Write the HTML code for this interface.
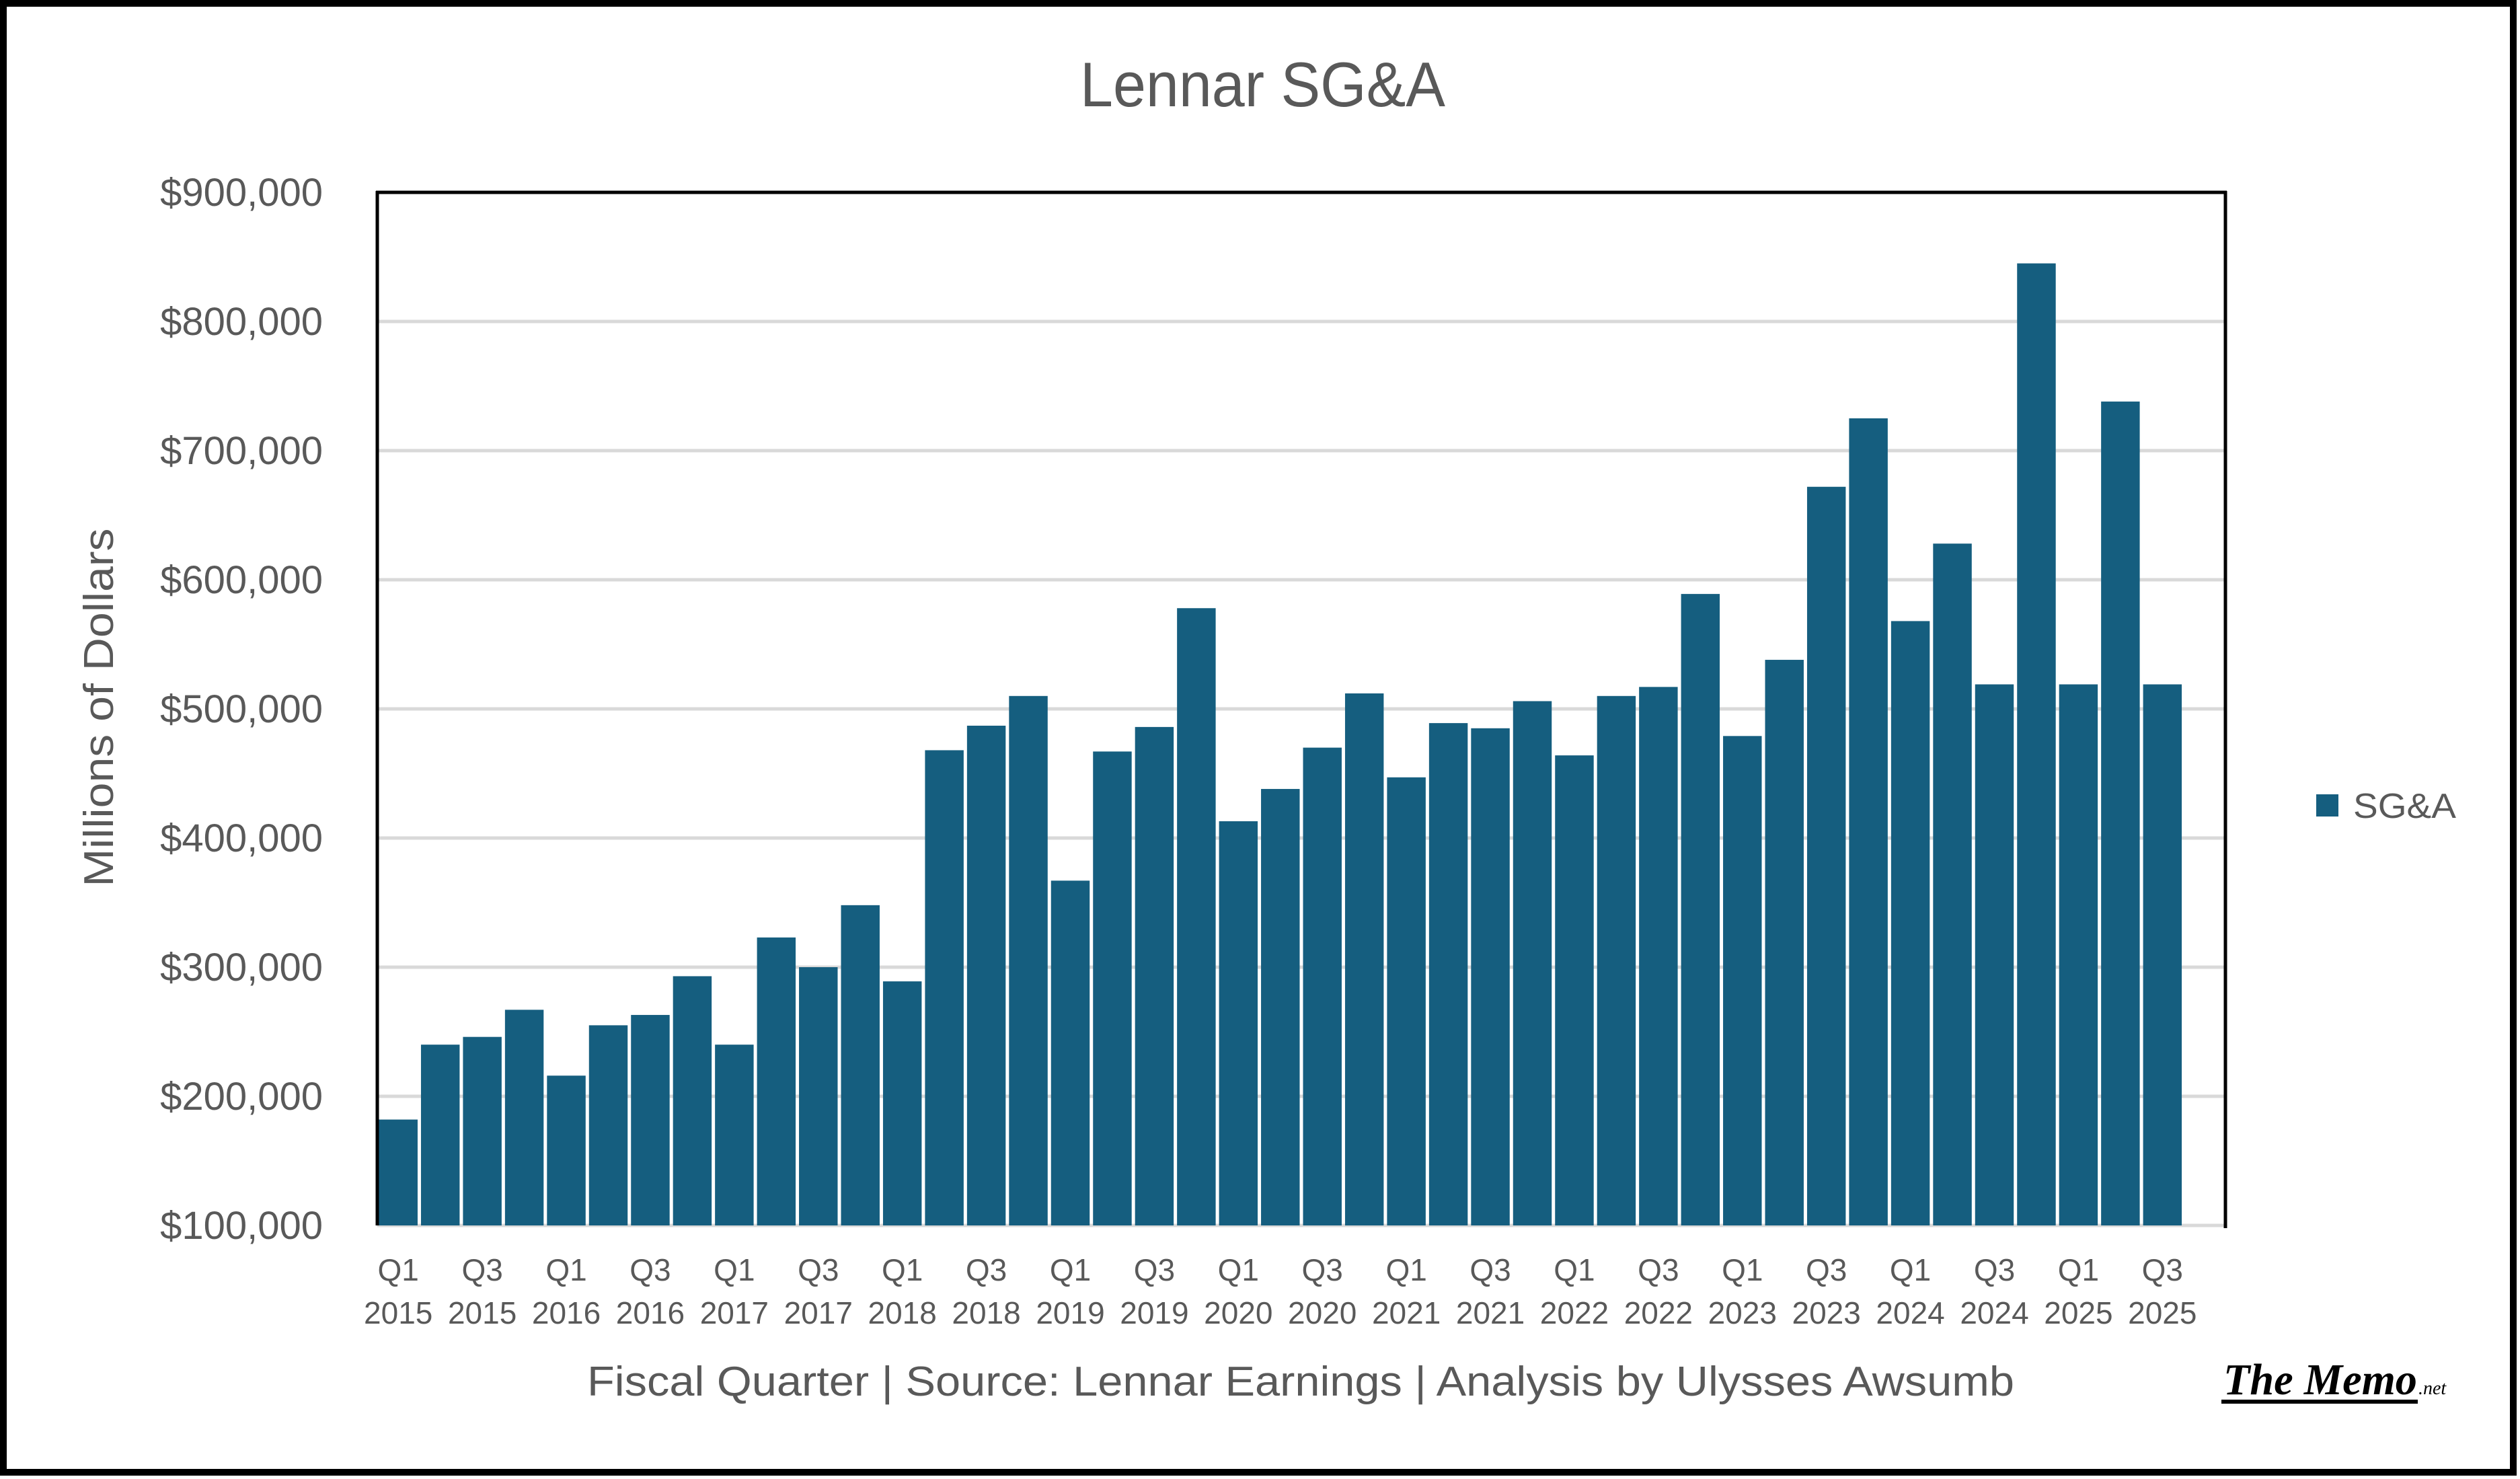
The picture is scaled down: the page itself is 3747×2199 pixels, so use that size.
<!DOCTYPE html>
<html><head><meta charset="utf-8"><style>
html,body{margin:0;padding:0;background:#fff;}
svg{display:block;}
text{font-family:"Liberation Sans",Arial,sans-serif;}
text.serif{font-family:"Liberation Serif","DejaVu Serif",serif;}
</style></head><body>
<svg id="chart" width="3747" height="2199" viewBox="0 0 3747 2199" xmlns="http://www.w3.org/2000/svg">
<rect x="5" y="5" width="3732" height="2184" fill="#fff" stroke="#000" stroke-width="10"/>
<text x="1606" y="158" font-size="94" fill="#595959" textLength="543" lengthAdjust="spacingAndGlyphs">Lennar SG&amp;A</text>
<g id="grid"></g>
<g id="bars"></g>
<g id="yticks"></g>
<g id="xticks"></g>
<line x1="561" y1="284" x2="561" y2="1822" stroke="#000" stroke-width="5"/>
<line x1="559" y1="286" x2="3311" y2="286" stroke="#000" stroke-width="5"/>
<line x1="3309" y1="284" x2="3309" y2="1826" stroke="#000" stroke-width="5"/>
<text transform="translate(168,1052) rotate(-90)" text-anchor="middle" font-size="62" fill="#595959" textLength="533" lengthAdjust="spacingAndGlyphs">Millions of Dollars</text>
<text x="873" y="2075" font-size="62" fill="#595959" textLength="2122" lengthAdjust="spacingAndGlyphs">Fiscal Quarter  | Source: Lennar Earnings | Analysis by Ulysses Awsumb</text>
<g>
<rect x="3444" y="1181" width="33" height="33" fill="#155e7f"/>
<text x="3499" y="1216" font-size="52" fill="#595959" textLength="153" lengthAdjust="spacingAndGlyphs">SG&amp;A</text>
</g>
<g>
<text class="serif" x="3306" y="2073" font-weight="bold" font-style="italic" font-size="66" fill="#000" textLength="288" lengthAdjust="spacingAndGlyphs">The Memo</text>
<text class="serif" x="3596" y="2073" font-style="italic" font-size="28" fill="#000">.net</text>
<rect x="3303" y="2081" width="292" height="6" fill="#000"/>
</g>
</svg>
<script>
const categories = ["Q1 2015","Q2 2015","Q3 2015","Q4 2015","Q1 2016","Q2 2016","Q3 2016","Q4 2016","Q1 2017","Q2 2017","Q3 2017","Q4 2017","Q1 2018","Q2 2018","Q3 2018","Q4 2018","Q1 2019","Q2 2019","Q3 2019","Q4 2019","Q1 2020","Q2 2020","Q3 2020","Q4 2020","Q1 2021","Q2 2021","Q3 2021","Q4 2021","Q1 2022","Q2 2022","Q3 2022","Q4 2022","Q1 2023","Q2 2023","Q3 2023","Q4 2023","Q1 2024","Q2 2024","Q3 2024","Q4 2024","Q1 2025","Q2 2025","Q3 2025","Q4 2025"];
const sgaValues = [182000,240000,246000,267000,216000,255000,263000,293000,240000,323000,300000,348000,289000,468000,487000,510000,367000,467000,486000,578000,413000,438000,470000,512000,447000,489000,485000,506000,464000,510000,517000,589000,479000,538000,672000,725000,568000,628000,519000,845000,519000,738000,519000,null];
const yTicks = [100000,200000,300000,400000,500000,600000,700000,800000,900000];
const yTickLabels = ["$100,000","$200,000","$300,000","$400,000","$500,000","$600,000","$700,000","$800,000","$900,000"];

const NS = "http://www.w3.org/2000/svg";
const plotL = 561, plotR = 3309, plotT = 286, plotB = 1822;
const yMin = 100000, yMax = 900000;
function yScale(v){ return plotB - (v - yMin) / (yMax - yMin) * (plotB - plotT); }
const band = (plotR - plotL) / categories.length;
function xBand(i){ return plotL + i * band; }

const grid = document.getElementById('grid');
const yt = document.getElementById('yticks');
yTicks.forEach((v, i) => {
  const y = yScale(v);
  const ln = document.createElementNS(NS, 'line');
  
  
  ln.setAttribute('x1', plotL); ln.setAttribute('x2', plotR);
  ln.setAttribute('y1', y); ln.setAttribute('y2', y);
  ln.setAttribute('stroke', '#d9d9d9'); ln.setAttribute('stroke-width', '5');
  grid.appendChild(ln);
  const t = document.createElementNS(NS, 'text');
  
  
  t.setAttribute('x', 480); t.setAttribute('y', y + 20);
  t.setAttribute('text-anchor', 'end');
  t.setAttribute('font-size', '58');
  t.setAttribute('fill', '#595959');
  t.textContent = yTickLabels[i];
  yt.appendChild(t);
});

const bars = document.getElementById('bars');
const gap = 5;
sgaValues.forEach((v, i) => {
  if (v === null) return;
  const r = document.createElementNS(NS, 'rect');
  
  
  const x = xBand(i) + gap / 2;
  const y = yScale(v);
  r.setAttribute('x', x); r.setAttribute('y', y);
  r.setAttribute('width', band - gap); r.setAttribute('height', plotB - y);
  r.setAttribute('fill', '#155e7f');
  bars.appendChild(r);
});

const xt = document.getElementById('xticks');
categories.forEach((c, i) => {
  if (i % 2 !== 0 || sgaValues[i] === null) return;
  const parts = c.split(' ');
  const cx = xBand(i) + band / 2;
  const t = document.createElementNS(NS, 'text');
  
  
  t.setAttribute('text-anchor', 'middle');
  t.setAttribute('font-size', '46');
  t.setAttribute('fill', '#595959');
  const s1 = document.createElementNS(NS, 'tspan');
  s1.setAttribute('x', cx); s1.setAttribute('y', 1904);
  s1.textContent = parts[0];
  const s2 = document.createElementNS(NS, 'tspan');
  s2.setAttribute('x', cx); s2.setAttribute('y', 1968);
  s2.textContent = parts[1];
  t.appendChild(s1); t.appendChild(s2);
  xt.appendChild(t);
});
</script>
</body></html>
